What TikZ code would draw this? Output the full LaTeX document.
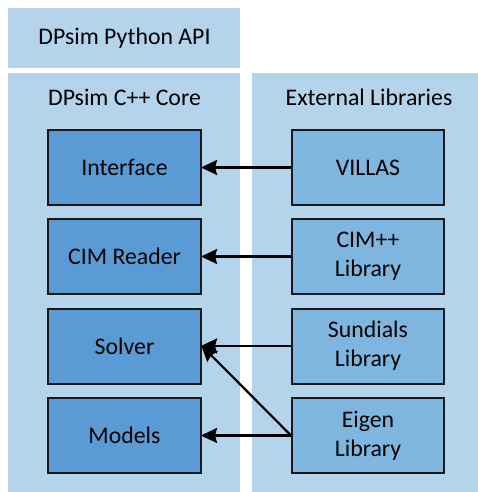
\documentclass[tikz,border=0pt]{standalone}
\usepackage{fontspec}
\setmainfont{Carlito}
\usetikzlibrary{arrows.meta}
\definecolor{panelblue}{HTML}{B4D4EC}
\definecolor{coreblue}{HTML}{5B9BD5}
\definecolor{libblue}{HTML}{7FB6DF}
\tikzset{
  lbl/.style={font=\fontsize{23.8}{29}\selectfont, text=black},
  corebox/.style={draw=black!90, line width=2pt, fill=coreblue, minimum width=153pt, minimum height=75pt, align=center, font=\fontsize{23.8}{29}\selectfont},
  libbox/.style={draw=black!90, line width=2pt, fill=libblue, minimum width=152pt, minimum height=75pt, align=center, font=\fontsize{23.8}{29}\selectfont},
  conn/.style={line width=2.2pt, -{Stealth[length=16pt,width=15pt,inset=2pt]}, shorten >=-1pt}
}
\begin{document}
\begin{tikzpicture}[x=1pt,y=-1pt]
\useasboundingbox (0,0) rectangle (478,492);
\fill[panelblue] (8,8) rectangle (240,68);
\fill[panelblue] (8,73) rectangle (240,492);
\fill[panelblue] (252,73) rectangle (478,492);
\node[lbl] (api) at (124.5,38) {DPsim Python API};
\node[lbl] (core) at (124.5,97) {DPsim C++ Core};
\node[lbl] (ext) at (369,97) {External Libraries};
\node[corebox] (iface) at (124.5,167.5) {Interface};
\node[corebox] (cim) at (124.5,256.5) {CIM Reader};
\node[corebox] (solver) at (124.5,346) {Solver};
\node[corebox] (models) at (124.5,435.5) {Models};
\node[libbox] (villas) at (368,167.5) {VILLAS};
\node[libbox] (cimpp) at (368,256.5) {CIM++\\Library};
\node[libbox] (sundials) at (368,346) {Sundials\\Library};
\node[libbox] (eigen) at (368,435.5) {Eigen\\Library};
\draw[conn] (villas.west) -- (iface.east);
\draw[conn] (cimpp.west) -- (cim.east);
\draw[conn] (sundials.west) -- (solver.east);
\draw[conn] (eigen.west) -- (solver.east);
\draw[conn] (eigen.west) -- (models.east);
\end{tikzpicture}
\end{document}
